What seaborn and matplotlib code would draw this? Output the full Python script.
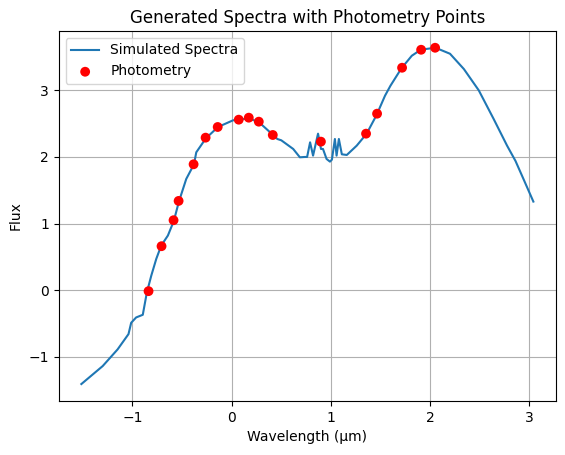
import matplotlib
matplotlib.use("Agg")
import matplotlib.pyplot as plt
import seaborn as sns

# spectrum
wave = [-1.515, -1.30, -1.15, -1.04, -1.013, -0.963, -0.896, -0.855, -0.81, -0.76,
        -0.71, -0.643, -0.583, -0.532, -0.458, -0.38, -0.357, -0.26, -0.138, 0.013,
        0.175, 0.276, 0.417, 0.46, 0.50, 0.62, 0.687, 0.737, 0.76, 0.79,
        0.82, 0.87, 0.90, 0.92, 0.956, 0.99, 1.01, 1.04, 1.057, 1.08,
        1.11, 1.16, 1.26, 1.36, 1.46, 1.545, 1.60, 1.71, 1.815, 1.905,
        2.0, 2.07, 2.20, 2.34, 2.49, 2.64, 2.775, 2.86, 2.94, 3.04]
flux = [-1.41, -1.14, -0.89, -0.66, -0.49, -0.41, -0.37, -0.035, 0.22, 0.47,
        0.67, 0.82, 1.04, 1.33, 1.67, 1.89, 2.07, 2.28, 2.45, 2.55,
        2.58, 2.52, 2.33, 2.27, 2.25, 2.12, 1.995, 2.0, 2.0, 2.22,
        2.02, 2.35, 2.12, 2.12, 1.97, 1.93, 1.96, 2.27, 2.02, 2.27,
        2.04, 2.03, 2.17, 2.35, 2.63, 2.92, 3.07, 3.33, 3.52, 3.61,
        3.63, 3.63, 3.55, 3.32, 3.00, 2.57, 2.17, 1.94, 1.67, 1.33]

# photometry points
phot_wave = [-0.838, -0.707, -0.586, -0.535, -0.384, -0.263, -0.141, 0.071, 0.172,
             0.273, 0.414, 0.899, 1.354, 1.465, 1.717, 1.909, 2.05]
phot_flux = [-0.015, 0.66, 1.05, 1.34, 1.89, 2.29, 2.45, 2.56, 2.59,
             2.53, 2.33, 2.23, 2.35, 2.65, 3.34, 3.61, 3.64]

fig, ax = plt.subplots(figsize=(5.65, 4.55), dpi=100)
fig.subplots_adjust(left=0.104, right=0.984, top=0.932, bottom=0.119)

sns.lineplot(x=wave, y=flux, sort=False, ax=ax, color="#1f77b4",
             linewidth=1.5, label="Simulated Spectra")
sns.scatterplot(x=phot_wave, y=phot_flux, ax=ax, color="red", s=50,
                edgecolor="none", label="Photometry", zorder=3)

ax.set_title("Generated Spectra with Photometry Points")
ax.set_xlabel("Wavelength (µm)")
ax.set_ylabel("Flux")
ax.grid(True)
ax.legend(loc="upper left")

fig.savefig("out.png")
